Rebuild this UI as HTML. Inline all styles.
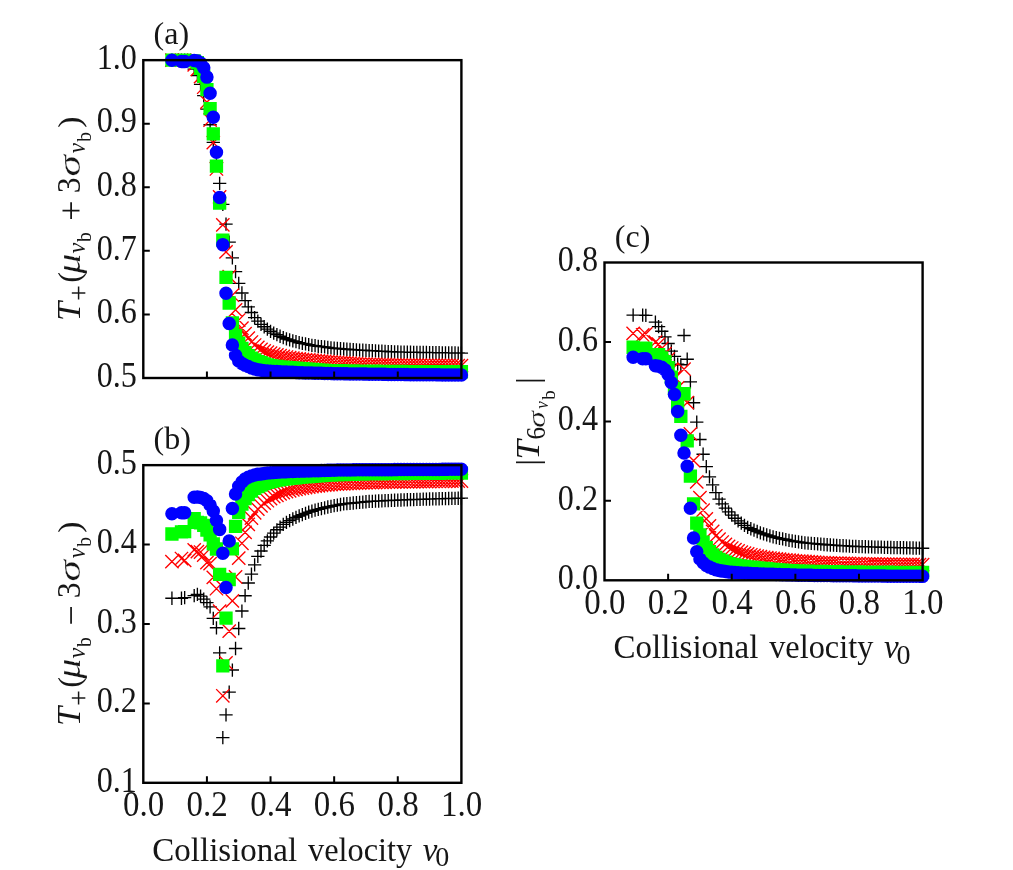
<!DOCTYPE html>
<html lang="en"><head><meta charset="utf-8"><title>Transmission versus collisional velocity</title>
<style>html,body{margin:0;padding:0;background:#fff}body{width:1013px;height:870px;overflow:hidden;font-family:"Liberation Serif", serif}svg{display:block;font-family:"Liberation Serif", serif;font-size:33px;fill:#161616;will-change:transform}</style>
</head><body>
<svg width="1013" height="870" viewBox="0 0 1013 870" role="img" aria-label="Transmission versus collisional velocity, panels a, b and c">
<rect width="1013" height="870" fill="#fff"/>
<g id="panel-a">
<path d="M165.28 60.15h13.3M171.93 53.5v13.3M174.82 60.15h13.3M181.47 53.5v13.3M178 60.15h13.3M184.65 53.5v13.3M187.55 69.18h13.3M194.2 62.53v13.3M190.73 75.6h13.3M197.38 68.95v13.3M193.91 84.31h13.3M200.56 77.66v13.3M197.09 95.62h13.3M203.74 88.97v13.3M200.27 109.1h13.3M206.92 102.45v13.3M203.45 124.74h13.3M210.1 118.09v13.3M206.63 142.41h13.3M213.28 135.76v13.3M209.81 162.37h13.3M216.46 155.72v13.3M212.99 183.35h13.3M219.64 176.7v13.3M216.17 204.39h13.3M222.82 197.74v13.3M219.36 224.16h13.3M226.01 217.51v13.3M222.54 242.15h13.3M229.19 235.5v13.3M225.72 257.85h13.3M232.37 251.2v13.3M228.9 271.58h13.3M235.55 264.93v13.3M232.08 283.41h13.3M238.73 276.76v13.3M235.26 293.01h13.3M241.91 286.36v13.3M238.44 300.64h13.3M245.09 293.99v13.3M241.62 306.93h13.3M248.27 300.28v13.3M244.8 312.52h13.3M251.45 305.87v13.3M247.98 317.61h13.3M254.63 310.96v13.3M251.17 321.1h13.3M257.82 314.45v13.3M254.35 324.41h13.3M261 317.76v13.3M257.53 326.76h13.3M264.18 320.11v13.3M260.71 329.18h13.3M267.36 322.53v13.3M263.89 331.28h13.3M270.54 324.63v13.3M267.07 333.06h13.3M273.72 326.41v13.3M270.25 334.65h13.3M276.9 328v13.3M273.43 336.23h13.3M280.08 329.58v13.3M276.61 337.57h13.3M283.26 330.92v13.3M279.8 338.97h13.3M286.44 332.32v13.3M282.98 339.86h13.3M289.63 333.21v13.3M286.16 340.94h13.3M292.81 334.29v13.3M289.34 341.64h13.3M295.99 334.99v13.3M292.52 342.72h13.3M299.17 336.07v13.3M295.7 343.42h13.3M302.35 336.77v13.3M298.88 343.93h13.3M305.53 337.28v13.3M302.06 344.63h13.3M308.71 337.98v13.3M305.24 345.39h13.3M311.89 338.74v13.3M308.42 345.71h13.3M315.07 339.06v13.3M311.61 346.28h13.3M318.25 339.63v13.3M314.79 346.6h13.3M321.44 339.95v13.3M317.97 346.91h13.3M324.62 340.26v13.3M321.15 347.49h13.3M327.8 340.84v13.3M324.33 347.8h13.3M330.98 341.15v13.3M327.51 348.25h13.3M334.16 341.6v13.3M330.69 348.5h13.3M337.34 341.85v13.3M333.87 348.76h13.3M340.52 342.11v13.3M337.05 349.01h13.3M343.7 342.36v13.3M340.23 349.27h13.3M346.88 342.62v13.3M343.42 349.52h13.3M350.06 342.87v13.3M346.6 349.7h13.3M353.25 343.05v13.3M349.78 349.88h13.3M356.43 343.23v13.3M352.96 350.05h13.3M359.61 343.4v13.3M356.14 350.23h13.3M362.79 343.58v13.3M359.32 350.41h13.3M365.97 343.76v13.3M362.5 350.58h13.3M369.15 343.93v13.3M365.68 350.75h13.3M372.33 344.1v13.3M368.86 350.92h13.3M375.51 344.27v13.3M372.04 351.09h13.3M378.69 344.44v13.3M375.23 351.26h13.3M381.88 344.61v13.3M378.41 351.43h13.3M385.06 344.78v13.3M381.59 351.6h13.3M388.24 344.95v13.3M384.77 351.77h13.3M391.42 345.12v13.3M387.95 351.94h13.3M394.6 345.29v13.3M391.13 351.99h13.3M397.78 345.34v13.3M394.31 352.05h13.3M400.96 345.4v13.3M397.49 352.11h13.3M404.14 345.46v13.3M400.67 352.17h13.3M407.32 345.52v13.3M403.85 352.23h13.3M410.5 345.58v13.3M407.04 352.28h13.3M413.69 345.63v13.3M410.22 352.34h13.3M416.87 345.69v13.3M413.4 352.4h13.3M420.05 345.75v13.3M416.58 352.46h13.3M423.23 345.81v13.3M419.76 352.51h13.3M426.41 345.86v13.3M422.94 352.57h13.3M429.59 345.92v13.3M426.12 352.62h13.3M432.77 345.97v13.3M429.3 352.67h13.3M435.95 346.02v13.3M432.48 352.72h13.3M439.13 346.07v13.3M435.66 352.78h13.3M442.31 346.13v13.3M438.84 352.83h13.3M445.49 346.18v13.3M442.03 352.88h13.3M448.68 346.23v13.3M445.21 352.93h13.3M451.86 346.28v13.3M448.39 352.98h13.3M455.04 346.33v13.3M451.57 353.03h13.3M458.22 346.38v13.3M454.75 353.08h13.3M461.4 346.43v13.3" stroke="#000000" stroke-width="1.35" fill="none"/>
<path d="M165.28 53.5l13.3 13.3M165.28 66.8l13.3 -13.3M174.82 53.5l13.3 13.3M174.82 66.8l13.3 -13.3M178 53.5l13.3 13.3M178 66.8l13.3 -13.3M187.55 58.14l13.3 13.3M187.55 71.44l13.3 -13.3M190.73 62.72l13.3 13.3M190.73 76.02l13.3 -13.3M193.91 69.9l13.3 13.3M193.91 83.2l13.3 -13.3M197.09 80.58l13.3 13.3M197.09 93.88l13.3 -13.3M200.27 95.46l13.3 13.3M200.27 108.76l13.3 -13.3M203.45 113.38l13.3 13.3M203.45 126.68l13.3 -13.3M206.63 136.01l13.3 13.3M206.63 149.31l13.3 -13.3M209.81 162.33l13.3 13.3M209.81 175.63l13.3 -13.3M212.99 190.3l13.3 13.3M212.99 203.6l13.3 -13.3M216.17 218.15l13.3 13.3M216.17 231.45l13.3 -13.3M219.36 245.29l13.3 13.3M219.36 258.59l13.3 -13.3M222.54 270.02l13.3 13.3M222.54 283.32l13.3 -13.3M225.72 288.58l13.3 13.3M225.72 301.88l13.3 -13.3M228.9 303.27l13.3 13.3M228.9 316.57l13.3 -13.3M232.08 313.37l13.3 13.3M232.08 326.67l13.3 -13.3M235.26 321.57l13.3 13.3M235.26 334.87l13.3 -13.3M238.44 326.98l13.3 13.3M238.44 340.28l13.3 -13.3M241.62 331.56l13.3 13.3M241.62 344.86l13.3 -13.3M244.8 335.37l13.3 13.3M244.8 348.67l13.3 -13.3M247.98 338.36l13.3 13.3M247.98 351.66l13.3 -13.3M251.17 340.77l13.3 13.3M251.17 354.07l13.3 -13.3M254.35 342.68l13.3 13.3M254.35 355.98l13.3 -13.3M257.53 344.21l13.3 13.3M257.53 357.51l13.3 -13.3M260.71 345.48l13.3 13.3M260.71 358.78l13.3 -13.3M263.89 346.56l13.3 13.3M263.89 359.86l13.3 -13.3M267.07 347.41l13.3 13.3M267.07 360.71l13.3 -13.3M270.25 348.25l13.3 13.3M270.25 361.55l13.3 -13.3M273.43 349.1l13.3 13.3M273.43 362.4l13.3 -13.3M276.61 349.74l13.3 13.3M276.61 363.04l13.3 -13.3M279.8 350.37l13.3 13.3M279.8 363.67l13.3 -13.3M282.98 351.01l13.3 13.3M282.98 364.31l13.3 -13.3M286.16 351.45l13.3 13.3M286.16 364.75l13.3 -13.3M289.34 351.9l13.3 13.3M289.34 365.2l13.3 -13.3M292.52 352.34l13.3 13.3M292.52 365.64l13.3 -13.3M295.7 352.79l13.3 13.3M295.7 366.09l13.3 -13.3M298.88 353.06l13.3 13.3M298.88 366.36l13.3 -13.3M302.06 353.33l13.3 13.3M302.06 366.63l13.3 -13.3M305.24 353.6l13.3 13.3M305.24 366.9l13.3 -13.3M308.42 353.87l13.3 13.3M308.42 367.17l13.3 -13.3M311.61 354.14l13.3 13.3M311.61 367.44l13.3 -13.3M314.79 354.41l13.3 13.3M314.79 367.71l13.3 -13.3M317.97 354.68l13.3 13.3M317.97 367.98l13.3 -13.3M321.15 354.95l13.3 13.3M321.15 368.25l13.3 -13.3M324.33 355.18l13.3 13.3M324.33 368.48l13.3 -13.3M327.51 355.41l13.3 13.3M327.51 368.71l13.3 -13.3M330.69 355.64l13.3 13.3M330.69 368.94l13.3 -13.3M333.87 355.87l13.3 13.3M333.87 369.17l13.3 -13.3M337.05 356.1l13.3 13.3M337.05 369.4l13.3 -13.3M340.23 356.34l13.3 13.3M340.23 369.64l13.3 -13.3M343.42 356.57l13.3 13.3M343.42 369.87l13.3 -13.3M346.6 356.8l13.3 13.3M346.6 370.1l13.3 -13.3M349.78 357.03l13.3 13.3M349.78 370.33l13.3 -13.3M352.96 357.26l13.3 13.3M352.96 370.56l13.3 -13.3M356.14 357.49l13.3 13.3M356.14 370.79l13.3 -13.3M359.32 357.57l13.3 13.3M359.32 370.87l13.3 -13.3M362.5 357.64l13.3 13.3M362.5 370.94l13.3 -13.3M365.68 357.72l13.3 13.3M365.68 371.02l13.3 -13.3M368.86 357.79l13.3 13.3M368.86 371.09l13.3 -13.3M372.04 357.87l13.3 13.3M372.04 371.17l13.3 -13.3M375.23 357.94l13.3 13.3M375.23 371.24l13.3 -13.3M378.41 358.02l13.3 13.3M378.41 371.32l13.3 -13.3M381.59 358.09l13.3 13.3M381.59 371.39l13.3 -13.3M384.77 358.17l13.3 13.3M384.77 371.47l13.3 -13.3M387.95 358.24l13.3 13.3M387.95 371.54l13.3 -13.3M391.13 358.32l13.3 13.3M391.13 371.62l13.3 -13.3M394.31 358.36l13.3 13.3M394.31 371.66l13.3 -13.3M397.49 358.39l13.3 13.3M397.49 371.69l13.3 -13.3M400.67 358.43l13.3 13.3M400.67 371.73l13.3 -13.3M403.85 358.47l13.3 13.3M403.85 371.77l13.3 -13.3M407.04 358.51l13.3 13.3M407.04 371.81l13.3 -13.3M410.22 358.55l13.3 13.3M410.22 371.85l13.3 -13.3M413.4 358.59l13.3 13.3M413.4 371.89l13.3 -13.3M416.58 358.62l13.3 13.3M416.58 371.92l13.3 -13.3M419.76 358.66l13.3 13.3M419.76 371.96l13.3 -13.3M422.94 358.7l13.3 13.3M422.94 372l13.3 -13.3M426.12 358.72l13.3 13.3M426.12 372.02l13.3 -13.3M429.3 358.75l13.3 13.3M429.3 372.05l13.3 -13.3M432.48 358.78l13.3 13.3M432.48 372.08l13.3 -13.3M435.66 358.8l13.3 13.3M435.66 372.1l13.3 -13.3M438.84 358.83l13.3 13.3M438.84 372.13l13.3 -13.3M442.03 358.85l13.3 13.3M442.03 372.15l13.3 -13.3M445.21 358.88l13.3 13.3M445.21 372.18l13.3 -13.3M448.39 358.9l13.3 13.3M448.39 372.2l13.3 -13.3M451.57 358.93l13.3 13.3M451.57 372.23l13.3 -13.3M454.75 358.95l13.3 13.3M454.75 372.25l13.3 -13.3" stroke="#ff0000" stroke-width="1.35" fill="none"/>
<path d="M165.28 53.5h13.3v13.3h-13.3zM174.82 53.5h13.3v13.3h-13.3zM178 53.5h13.3v13.3h-13.3zM187.55 54.14h13.3v13.3h-13.3zM190.73 55.92h13.3v13.3h-13.3zM193.91 61.76h13.3v13.3h-13.3zM197.09 69.58h13.3v13.3h-13.3zM200.27 83h13.3v13.3h-13.3zM203.45 101.88h13.3v13.3h-13.3zM206.63 127.24h13.3v13.3h-13.3zM209.81 159.47h13.3v13.3h-13.3zM212.99 196.41h13.3v13.3h-13.3zM216.17 233.53h13.3v13.3h-13.3zM219.36 270.72h13.3v13.3h-13.3zM222.54 296.34h13.3v13.3h-13.3zM225.72 316.17h13.3v13.3h-13.3zM228.9 328.95h13.3v13.3h-13.3zM232.08 336.39h13.3v13.3h-13.3zM235.26 341.73h13.3v13.3h-13.3zM238.44 345.92h13.3v13.3h-13.3zM241.62 348.91h13.3v13.3h-13.3zM244.8 351.58h13.3v13.3h-13.3zM247.98 353.36h13.3v13.3h-13.3zM251.17 354.89h13.3v13.3h-13.3zM254.35 356.09h13.3v13.3h-13.3zM257.53 357.24h13.3v13.3h-13.3zM260.71 358.32h13.3v13.3h-13.3zM263.89 358.88h13.3v13.3h-13.3zM267.07 359.41h13.3v13.3h-13.3zM270.25 359.78h13.3v13.3h-13.3zM273.43 360.13h13.3v13.3h-13.3zM276.61 360.47h13.3v13.3h-13.3zM279.8 360.77h13.3v13.3h-13.3zM282.98 361.01h13.3v13.3h-13.3zM286.16 361.25h13.3v13.3h-13.3zM289.34 361.5h13.3v13.3h-13.3zM292.52 361.75h13.3v13.3h-13.3zM295.7 362.01h13.3v13.3h-13.3zM298.88 362.24h13.3v13.3h-13.3zM302.06 362.48h13.3v13.3h-13.3zM305.24 362.72h13.3v13.3h-13.3zM308.42 362.96h13.3v13.3h-13.3zM311.61 363.2h13.3v13.3h-13.3zM314.79 363.44h13.3v13.3h-13.3zM317.97 363.67h13.3v13.3h-13.3zM321.15 363.91h13.3v13.3h-13.3zM324.33 363.97h13.3v13.3h-13.3zM327.51 364.02h13.3v13.3h-13.3zM330.69 364.07h13.3v13.3h-13.3zM333.87 364.12h13.3v13.3h-13.3zM337.05 364.18h13.3v13.3h-13.3zM340.23 364.23h13.3v13.3h-13.3zM343.42 364.28h13.3v13.3h-13.3zM346.6 364.34h13.3v13.3h-13.3zM349.78 364.39h13.3v13.3h-13.3zM352.96 364.43h13.3v13.3h-13.3zM356.14 364.47h13.3v13.3h-13.3zM359.32 364.5h13.3v13.3h-13.3zM362.5 364.54h13.3v13.3h-13.3zM365.68 364.57h13.3v13.3h-13.3zM368.86 364.6h13.3v13.3h-13.3zM372.04 364.64h13.3v13.3h-13.3zM375.23 364.67h13.3v13.3h-13.3zM378.41 364.7h13.3v13.3h-13.3zM381.59 364.74h13.3v13.3h-13.3zM384.77 364.77h13.3v13.3h-13.3zM387.95 364.8h13.3v13.3h-13.3zM391.13 364.83h13.3v13.3h-13.3zM394.31 364.87h13.3v13.3h-13.3zM397.49 364.9h13.3v13.3h-13.3zM400.67 364.93h13.3v13.3h-13.3zM403.85 364.96h13.3v13.3h-13.3zM407.04 364.99h13.3v13.3h-13.3zM410.22 365h13.3v13.3h-13.3zM413.4 365.01h13.3v13.3h-13.3zM416.58 365.02h13.3v13.3h-13.3zM419.76 365.03h13.3v13.3h-13.3zM422.94 365.04h13.3v13.3h-13.3zM426.12 365.04h13.3v13.3h-13.3zM429.3 365.05h13.3v13.3h-13.3zM432.48 365.06h13.3v13.3h-13.3zM435.66 365.07h13.3v13.3h-13.3zM438.84 365.08h13.3v13.3h-13.3zM442.03 365.09h13.3v13.3h-13.3zM445.21 365.09h13.3v13.3h-13.3zM448.39 365.1h13.3v13.3h-13.3zM451.57 365.11h13.3v13.3h-13.3zM454.75 365.12h13.3v13.3h-13.3z" fill="#00ff00"/>
<path d="M165.18 60.15a6.75 6.75 0 1 0 13.5 0a6.75 6.75 0 1 0 -13.5 0zM174.72 61.42a6.75 6.75 0 1 0 13.5 0a6.75 6.75 0 1 0 -13.5 0zM177.9 61.61a6.75 6.75 0 1 0 13.5 0a6.75 6.75 0 1 0 -13.5 0zM187.45 60.47a6.75 6.75 0 1 0 13.5 0a6.75 6.75 0 1 0 -13.5 0zM190.63 61.1a6.75 6.75 0 1 0 13.5 0a6.75 6.75 0 1 0 -13.5 0zM193.81 63.07a6.75 6.75 0 1 0 13.5 0a6.75 6.75 0 1 0 -13.5 0zM196.99 67.78a6.75 6.75 0 1 0 13.5 0a6.75 6.75 0 1 0 -13.5 0zM200.17 77.12a6.75 6.75 0 1 0 13.5 0a6.75 6.75 0 1 0 -13.5 0zM203.35 93.21a6.75 6.75 0 1 0 13.5 0a6.75 6.75 0 1 0 -13.5 0zM206.53 117.24a6.75 6.75 0 1 0 13.5 0a6.75 6.75 0 1 0 -13.5 0zM209.71 152.33a6.75 6.75 0 1 0 13.5 0a6.75 6.75 0 1 0 -13.5 0zM212.89 197.46a6.75 6.75 0 1 0 13.5 0a6.75 6.75 0 1 0 -13.5 0zM216.07 244.63a6.75 6.75 0 1 0 13.5 0a6.75 6.75 0 1 0 -13.5 0zM219.26 293.26a6.75 6.75 0 1 0 13.5 0a6.75 6.75 0 1 0 -13.5 0zM222.44 323.46a6.75 6.75 0 1 0 13.5 0a6.75 6.75 0 1 0 -13.5 0zM225.62 344.94a6.75 6.75 0 1 0 13.5 0a6.75 6.75 0 1 0 -13.5 0zM228.8 355.24a6.75 6.75 0 1 0 13.5 0a6.75 6.75 0 1 0 -13.5 0zM231.98 360.96a6.75 6.75 0 1 0 13.5 0a6.75 6.75 0 1 0 -13.5 0zM235.16 363.38a6.75 6.75 0 1 0 13.5 0a6.75 6.75 0 1 0 -13.5 0zM238.34 365.29a6.75 6.75 0 1 0 13.5 0a6.75 6.75 0 1 0 -13.5 0zM241.52 366.56a6.75 6.75 0 1 0 13.5 0a6.75 6.75 0 1 0 -13.5 0zM244.7 367.89a6.75 6.75 0 1 0 13.5 0a6.75 6.75 0 1 0 -13.5 0zM247.88 368.97a6.75 6.75 0 1 0 13.5 0a6.75 6.75 0 1 0 -13.5 0zM251.07 369.74a6.75 6.75 0 1 0 13.5 0a6.75 6.75 0 1 0 -13.5 0zM254.25 370.31a6.75 6.75 0 1 0 13.5 0a6.75 6.75 0 1 0 -13.5 0zM257.43 370.69a6.75 6.75 0 1 0 13.5 0a6.75 6.75 0 1 0 -13.5 0zM260.61 370.94a6.75 6.75 0 1 0 13.5 0a6.75 6.75 0 1 0 -13.5 0zM263.79 371.2a6.75 6.75 0 1 0 13.5 0a6.75 6.75 0 1 0 -13.5 0zM266.97 371.38a6.75 6.75 0 1 0 13.5 0a6.75 6.75 0 1 0 -13.5 0zM270.15 371.55a6.75 6.75 0 1 0 13.5 0a6.75 6.75 0 1 0 -13.5 0zM273.33 371.73a6.75 6.75 0 1 0 13.5 0a6.75 6.75 0 1 0 -13.5 0zM276.51 371.91a6.75 6.75 0 1 0 13.5 0a6.75 6.75 0 1 0 -13.5 0zM279.69 372.09a6.75 6.75 0 1 0 13.5 0a6.75 6.75 0 1 0 -13.5 0zM282.88 372.23a6.75 6.75 0 1 0 13.5 0a6.75 6.75 0 1 0 -13.5 0zM286.06 372.37a6.75 6.75 0 1 0 13.5 0a6.75 6.75 0 1 0 -13.5 0zM289.24 372.51a6.75 6.75 0 1 0 13.5 0a6.75 6.75 0 1 0 -13.5 0zM292.42 372.65a6.75 6.75 0 1 0 13.5 0a6.75 6.75 0 1 0 -13.5 0zM295.6 372.79a6.75 6.75 0 1 0 13.5 0a6.75 6.75 0 1 0 -13.5 0zM298.78 372.88a6.75 6.75 0 1 0 13.5 0a6.75 6.75 0 1 0 -13.5 0zM301.96 372.97a6.75 6.75 0 1 0 13.5 0a6.75 6.75 0 1 0 -13.5 0zM305.14 373.05a6.75 6.75 0 1 0 13.5 0a6.75 6.75 0 1 0 -13.5 0zM308.32 373.14a6.75 6.75 0 1 0 13.5 0a6.75 6.75 0 1 0 -13.5 0zM311.5 373.23a6.75 6.75 0 1 0 13.5 0a6.75 6.75 0 1 0 -13.5 0zM314.69 373.32a6.75 6.75 0 1 0 13.5 0a6.75 6.75 0 1 0 -13.5 0zM317.87 373.41a6.75 6.75 0 1 0 13.5 0a6.75 6.75 0 1 0 -13.5 0zM321.05 373.5a6.75 6.75 0 1 0 13.5 0a6.75 6.75 0 1 0 -13.5 0zM324.23 373.59a6.75 6.75 0 1 0 13.5 0a6.75 6.75 0 1 0 -13.5 0zM327.41 373.68a6.75 6.75 0 1 0 13.5 0a6.75 6.75 0 1 0 -13.5 0zM330.59 373.72a6.75 6.75 0 1 0 13.5 0a6.75 6.75 0 1 0 -13.5 0zM333.77 373.77a6.75 6.75 0 1 0 13.5 0a6.75 6.75 0 1 0 -13.5 0zM336.95 373.81a6.75 6.75 0 1 0 13.5 0a6.75 6.75 0 1 0 -13.5 0zM340.13 373.86a6.75 6.75 0 1 0 13.5 0a6.75 6.75 0 1 0 -13.5 0zM343.31 373.9a6.75 6.75 0 1 0 13.5 0a6.75 6.75 0 1 0 -13.5 0zM346.5 373.94a6.75 6.75 0 1 0 13.5 0a6.75 6.75 0 1 0 -13.5 0zM349.68 373.99a6.75 6.75 0 1 0 13.5 0a6.75 6.75 0 1 0 -13.5 0zM352.86 374.03a6.75 6.75 0 1 0 13.5 0a6.75 6.75 0 1 0 -13.5 0zM356.04 374.08a6.75 6.75 0 1 0 13.5 0a6.75 6.75 0 1 0 -13.5 0zM359.22 374.12a6.75 6.75 0 1 0 13.5 0a6.75 6.75 0 1 0 -13.5 0zM362.4 374.17a6.75 6.75 0 1 0 13.5 0a6.75 6.75 0 1 0 -13.5 0zM365.58 374.21a6.75 6.75 0 1 0 13.5 0a6.75 6.75 0 1 0 -13.5 0zM368.76 374.25a6.75 6.75 0 1 0 13.5 0a6.75 6.75 0 1 0 -13.5 0zM371.94 374.28a6.75 6.75 0 1 0 13.5 0a6.75 6.75 0 1 0 -13.5 0zM375.12 374.32a6.75 6.75 0 1 0 13.5 0a6.75 6.75 0 1 0 -13.5 0zM378.31 374.36a6.75 6.75 0 1 0 13.5 0a6.75 6.75 0 1 0 -13.5 0zM381.49 374.4a6.75 6.75 0 1 0 13.5 0a6.75 6.75 0 1 0 -13.5 0zM384.67 374.43a6.75 6.75 0 1 0 13.5 0a6.75 6.75 0 1 0 -13.5 0zM387.85 374.47a6.75 6.75 0 1 0 13.5 0a6.75 6.75 0 1 0 -13.5 0zM391.03 374.51a6.75 6.75 0 1 0 13.5 0a6.75 6.75 0 1 0 -13.5 0zM394.21 374.54a6.75 6.75 0 1 0 13.5 0a6.75 6.75 0 1 0 -13.5 0zM397.39 374.58a6.75 6.75 0 1 0 13.5 0a6.75 6.75 0 1 0 -13.5 0zM400.57 374.62a6.75 6.75 0 1 0 13.5 0a6.75 6.75 0 1 0 -13.5 0zM403.75 374.66a6.75 6.75 0 1 0 13.5 0a6.75 6.75 0 1 0 -13.5 0zM406.94 374.69a6.75 6.75 0 1 0 13.5 0a6.75 6.75 0 1 0 -13.5 0zM410.12 374.72a6.75 6.75 0 1 0 13.5 0a6.75 6.75 0 1 0 -13.5 0zM413.3 374.74a6.75 6.75 0 1 0 13.5 0a6.75 6.75 0 1 0 -13.5 0zM416.48 374.76a6.75 6.75 0 1 0 13.5 0a6.75 6.75 0 1 0 -13.5 0zM419.66 374.78a6.75 6.75 0 1 0 13.5 0a6.75 6.75 0 1 0 -13.5 0zM422.84 374.8a6.75 6.75 0 1 0 13.5 0a6.75 6.75 0 1 0 -13.5 0zM426.02 374.82a6.75 6.75 0 1 0 13.5 0a6.75 6.75 0 1 0 -13.5 0zM429.2 374.84a6.75 6.75 0 1 0 13.5 0a6.75 6.75 0 1 0 -13.5 0zM432.38 374.86a6.75 6.75 0 1 0 13.5 0a6.75 6.75 0 1 0 -13.5 0zM435.56 374.89a6.75 6.75 0 1 0 13.5 0a6.75 6.75 0 1 0 -13.5 0zM438.74 374.91a6.75 6.75 0 1 0 13.5 0a6.75 6.75 0 1 0 -13.5 0zM441.93 374.93a6.75 6.75 0 1 0 13.5 0a6.75 6.75 0 1 0 -13.5 0zM445.11 374.95a6.75 6.75 0 1 0 13.5 0a6.75 6.75 0 1 0 -13.5 0zM448.29 374.97a6.75 6.75 0 1 0 13.5 0a6.75 6.75 0 1 0 -13.5 0zM451.47 374.99a6.75 6.75 0 1 0 13.5 0a6.75 6.75 0 1 0 -13.5 0zM454.65 375.01a6.75 6.75 0 1 0 13.5 0a6.75 6.75 0 1 0 -13.5 0z" fill="#0000ff"/>
<rect x="143.3" y="60.15" width="318.1" height="317.85" fill="none" stroke="#000" stroke-width="2.4"/>
<path d="M206.92 378v-6.5M270.54 378v-6.5M334.16 378v-6.5M397.78 378v-6.5M143.3 314.43h6.5M143.3 250.86h6.5M143.3 187.29h6.5M143.3 123.72h6.5" stroke="#000" stroke-width="2.0" fill="none"/>
<text transform="translate(96.65 386.7) scale(0.975 1.07)">0.5</text>
<text transform="translate(96.65 323.13) scale(0.975 1.07)">0.6</text>
<text transform="translate(96.65 259.56) scale(0.975 1.07)">0.7</text>
<text transform="translate(96.65 195.99) scale(0.975 1.07)">0.8</text>
<text transform="translate(96.65 132.42) scale(0.975 1.07)">0.9</text>
<text transform="translate(96.65 68.85) scale(0.975 1.07)">1.0</text>
</g>
<g id="panel-b">
<path d="M165.28 598.25h13.3M171.93 591.6v13.3M174.82 598.25h13.3M181.47 591.6v13.3M178 597.69h13.3M184.65 591.04v13.3M187.55 595.55h13.3M194.2 588.9v13.3M190.73 594.43h13.3M197.38 587.78v13.3M193.91 596.1h13.3M200.56 589.45v13.3M197.09 599.12h13.3M203.74 592.47v13.3M200.27 602.69h13.3M206.92 596.04v13.3M203.45 606.82h13.3M210.1 600.17v13.3M206.63 618.42h13.3M213.28 611.77v13.3M209.81 627.79h13.3M216.46 621.14v13.3M212.99 652.8h13.3M219.64 646.15v13.3M216.17 737.69h13.3M222.82 731.04v13.3M219.36 714.9h13.3M226.01 708.25v13.3M222.54 692.11h13.3M229.19 685.46v13.3M225.72 670.03h13.3M232.37 663.38v13.3M228.9 648.51h13.3M235.55 641.86v13.3M232.08 628.5h13.3M238.73 621.85v13.3M235.26 611.03h13.3M241.91 604.38v13.3M238.44 595.7h13.3M245.09 589.05v13.3M241.62 583h13.3M248.27 576.35v13.3M244.8 574.1h13.3M251.45 567.45v13.3M247.98 564.89h13.3M254.63 558.24v13.3M251.17 556.39h13.3M257.82 549.74v13.3M254.35 550.99h13.3M261 544.34v13.3M257.53 545.36h13.3M264.18 538.71v13.3M260.71 540.91h13.3M267.36 534.26v13.3M263.89 537.02h13.3M270.54 530.37v13.3M267.07 533.13h13.3M273.72 526.48v13.3M270.25 529.79h13.3M276.9 523.14v13.3M273.43 527.09h13.3M280.08 520.44v13.3M276.61 524.39h13.3M283.26 517.74v13.3M279.8 522.33h13.3M286.44 515.68v13.3M282.98 520.58h13.3M289.63 513.93v13.3M286.16 518.99h13.3M292.81 512.34v13.3M289.34 517.32h13.3M295.99 510.67v13.3M292.52 515.97h13.3M299.17 509.32v13.3M295.7 514.7h13.3M302.35 508.05v13.3M298.88 513.43h13.3M305.53 506.78v13.3M302.06 512.16h13.3M308.71 505.51v13.3M305.24 511.21h13.3M311.89 504.56v13.3M308.42 510.18h13.3M315.07 503.53v13.3M311.61 509.38h13.3M318.25 502.73v13.3M314.79 508.59h13.3M321.44 501.94v13.3M317.97 507.79h13.3M324.62 501.14v13.3M321.15 507h13.3M327.8 500.35v13.3M324.33 506.33h13.3M330.98 499.68v13.3M327.51 505.65h13.3M334.16 499v13.3M330.69 505.07h13.3M337.34 498.42v13.3M333.87 504.49h13.3M340.52 497.84v13.3M337.05 503.9h13.3M343.7 497.25v13.3M340.23 503.6h13.3M346.88 496.95v13.3M343.42 503.29h13.3M350.06 496.64v13.3M346.6 502.98h13.3M353.25 496.33v13.3M349.78 502.67h13.3M356.43 496.02v13.3M352.96 502.36h13.3M359.61 495.71v13.3M356.14 502.06h13.3M362.79 495.41v13.3M359.32 501.75h13.3M365.97 495.1v13.3M362.5 501.44h13.3M369.15 494.79v13.3M365.68 501.29h13.3M372.33 494.64v13.3M368.86 501.14h13.3M375.51 494.49v13.3M372.04 500.99h13.3M378.69 494.34v13.3M375.23 500.84h13.3M381.88 494.19v13.3M378.41 500.69h13.3M385.06 494.04v13.3M381.59 500.54h13.3M388.24 493.89v13.3M384.77 500.39h13.3M391.42 493.74v13.3M387.95 500.24h13.3M394.6 493.59v13.3M391.13 500.09h13.3M397.78 493.44v13.3M394.31 499.98h13.3M400.96 493.33v13.3M397.49 499.87h13.3M404.14 493.22v13.3M400.67 499.76h13.3M407.32 493.11v13.3M403.85 499.65h13.3M410.5 493v13.3M407.04 499.54h13.3M413.69 492.89v13.3M410.22 499.42h13.3M416.87 492.77v13.3M413.4 499.31h13.3M420.05 492.66v13.3M416.58 499.2h13.3M423.23 492.55v13.3M419.76 499.09h13.3M426.41 492.44v13.3M422.94 498.98h13.3M429.59 492.33v13.3M426.12 498.9h13.3M432.77 492.25v13.3M429.3 498.82h13.3M435.95 492.17v13.3M432.48 498.74h13.3M439.13 492.09v13.3M435.66 498.66h13.3M442.31 492.01v13.3M438.84 498.58h13.3M445.49 491.93v13.3M442.03 498.5h13.3M448.68 491.85v13.3M445.21 498.42h13.3M451.86 491.77v13.3M448.39 498.34h13.3M455.04 491.69v13.3M451.57 498.27h13.3M458.22 491.62v13.3M454.75 498.19h13.3M461.4 491.54v13.3" stroke="#000000" stroke-width="1.35" fill="none"/>
<path d="M165.28 554.99l13.3 13.3M165.28 568.29l13.3 -13.3M174.82 551.89l13.3 13.3M174.82 565.19l13.3 -13.3M178 553.79l13.3 13.3M178 567.09l13.3 -13.3M187.55 543.15l13.3 13.3M187.55 556.45l13.3 -13.3M190.73 544.9l13.3 13.3M190.73 558.2l13.3 -13.3M193.91 545.38l13.3 13.3M193.91 558.68l13.3 -13.3M197.09 548.39l13.3 13.3M197.09 561.69l13.3 -13.3M200.27 556.02l13.3 13.3M200.27 569.32l13.3 -13.3M203.45 556.97l13.3 13.3M203.45 570.27l13.3 -13.3M206.63 570.79l13.3 13.3M206.63 584.09l13.3 -13.3M209.81 582.07l13.3 13.3M209.81 595.37l13.3 -13.3M212.99 604.46l13.3 13.3M212.99 617.76l13.3 -13.3M216.17 689.11l13.3 13.3M216.17 702.41l13.3 -13.3M219.36 656.24l13.3 13.3M219.36 669.54l13.3 -13.3M222.54 624.47l13.3 13.3M222.54 637.77l13.3 -13.3M225.72 594.3l13.3 13.3M225.72 607.6l13.3 -13.3M228.9 570.23l13.3 13.3M228.9 583.53l13.3 -13.3M232.08 551.41l13.3 13.3M232.08 564.71l13.3 -13.3M235.26 536.64l13.3 13.3M235.26 549.94l13.3 -13.3M238.44 525.76l13.3 13.3M238.44 539.06l13.3 -13.3M241.62 517.74l13.3 13.3M241.62 531.04l13.3 -13.3M244.8 511.47l13.3 13.3M244.8 524.77l13.3 -13.3M247.98 506.15l13.3 13.3M247.98 519.45l13.3 -13.3M251.17 502.42l13.3 13.3M251.17 515.72l13.3 -13.3M254.35 499.24l13.3 13.3M254.35 512.54l13.3 -13.3M257.53 496.54l13.3 13.3M257.53 509.84l13.3 -13.3M260.71 494.08l13.3 13.3M260.71 507.38l13.3 -13.3M263.89 492.01l13.3 13.3M263.89 505.31l13.3 -13.3M267.07 490.03l13.3 13.3M267.07 503.33l13.3 -13.3M270.25 488.6l13.3 13.3M270.25 501.9l13.3 -13.3M273.43 487.17l13.3 13.3M273.43 500.47l13.3 -13.3M276.61 485.98l13.3 13.3M276.61 499.28l13.3 -13.3M279.8 485.02l13.3 13.3M279.8 498.32l13.3 -13.3M282.98 484.15l13.3 13.3M282.98 497.45l13.3 -13.3M286.16 483.28l13.3 13.3M286.16 496.58l13.3 -13.3M289.34 482.64l13.3 13.3M289.34 495.94l13.3 -13.3M292.52 482.01l13.3 13.3M292.52 495.31l13.3 -13.3M295.7 481.37l13.3 13.3M295.7 494.67l13.3 -13.3M298.88 480.93l13.3 13.3M298.88 494.23l13.3 -13.3M302.06 480.48l13.3 13.3M302.06 493.78l13.3 -13.3M305.24 480.04l13.3 13.3M305.24 493.34l13.3 -13.3M308.42 479.59l13.3 13.3M308.42 492.89l13.3 -13.3M311.61 479.15l13.3 13.3M311.61 492.45l13.3 -13.3M314.79 478.83l13.3 13.3M314.79 492.13l13.3 -13.3M317.97 478.51l13.3 13.3M317.97 491.81l13.3 -13.3M321.15 478.19l13.3 13.3M321.15 491.49l13.3 -13.3M324.33 477.88l13.3 13.3M324.33 491.18l13.3 -13.3M327.51 477.56l13.3 13.3M327.51 490.86l13.3 -13.3M330.69 477.42l13.3 13.3M330.69 490.72l13.3 -13.3M333.87 477.27l13.3 13.3M333.87 490.57l13.3 -13.3M337.05 477.13l13.3 13.3M337.05 490.43l13.3 -13.3M340.23 476.99l13.3 13.3M340.23 490.29l13.3 -13.3M343.42 476.84l13.3 13.3M343.42 490.14l13.3 -13.3M346.6 476.7l13.3 13.3M346.6 490l13.3 -13.3M349.78 476.56l13.3 13.3M349.78 489.86l13.3 -13.3M352.96 476.42l13.3 13.3M352.96 489.72l13.3 -13.3M356.14 476.27l13.3 13.3M356.14 489.57l13.3 -13.3M359.32 476.13l13.3 13.3M359.32 489.43l13.3 -13.3M362.5 476.05l13.3 13.3M362.5 489.35l13.3 -13.3M365.68 475.97l13.3 13.3M365.68 489.27l13.3 -13.3M368.86 475.89l13.3 13.3M368.86 489.19l13.3 -13.3M372.04 475.81l13.3 13.3M372.04 489.11l13.3 -13.3M375.23 475.73l13.3 13.3M375.23 489.03l13.3 -13.3M378.41 475.65l13.3 13.3M378.41 488.95l13.3 -13.3M381.59 475.57l13.3 13.3M381.59 488.87l13.3 -13.3M384.77 475.49l13.3 13.3M384.77 488.79l13.3 -13.3M387.95 475.41l13.3 13.3M387.95 488.71l13.3 -13.3M391.13 475.34l13.3 13.3M391.13 488.64l13.3 -13.3M394.31 475.29l13.3 13.3M394.31 488.59l13.3 -13.3M397.49 475.24l13.3 13.3M397.49 488.54l13.3 -13.3M400.67 475.19l13.3 13.3M400.67 488.49l13.3 -13.3M403.85 475.14l13.3 13.3M403.85 488.44l13.3 -13.3M407.04 475.1l13.3 13.3M407.04 488.4l13.3 -13.3M410.22 475.05l13.3 13.3M410.22 488.35l13.3 -13.3M413.4 475l13.3 13.3M413.4 488.3l13.3 -13.3M416.58 474.95l13.3 13.3M416.58 488.25l13.3 -13.3M419.76 474.91l13.3 13.3M419.76 488.21l13.3 -13.3M422.94 474.86l13.3 13.3M422.94 488.16l13.3 -13.3M426.12 474.81l13.3 13.3M426.12 488.11l13.3 -13.3M429.3 474.76l13.3 13.3M429.3 488.06l13.3 -13.3M432.48 474.72l13.3 13.3M432.48 488.02l13.3 -13.3M435.66 474.67l13.3 13.3M435.66 487.97l13.3 -13.3M438.84 474.62l13.3 13.3M438.84 487.92l13.3 -13.3M442.03 474.57l13.3 13.3M442.03 487.87l13.3 -13.3M445.21 474.53l13.3 13.3M445.21 487.83l13.3 -13.3M448.39 474.48l13.3 13.3M448.39 487.78l13.3 -13.3M451.57 474.43l13.3 13.3M451.57 487.73l13.3 -13.3M454.75 474.38l13.3 13.3M454.75 487.68l13.3 -13.3" stroke="#ff0000" stroke-width="1.35" fill="none"/>
<path d="M165.28 527.35h13.3v13.3h-13.3zM174.82 525.29h13.3v13.3h-13.3zM178 524.97h13.3v13.3h-13.3zM187.55 512.02h13.3v13.3h-13.3zM190.73 515.68h13.3v13.3h-13.3zM193.91 516.31h13.3v13.3h-13.3zM197.09 518.69h13.3v13.3h-13.3zM200.27 523.38h13.3v13.3h-13.3zM203.45 528.14h13.3v13.3h-13.3zM206.63 537.28h13.3v13.3h-13.3zM209.81 542.36h13.3v13.3h-13.3zM212.99 567.77h13.3v13.3h-13.3zM216.17 659.25h13.3v13.3h-13.3zM219.36 611.45h13.3v13.3h-13.3zM222.54 572.85h13.3v13.3h-13.3zM225.72 542.2h13.3v13.3h-13.3zM228.9 519.65h13.3v13.3h-13.3zM232.08 505.59h13.3v13.3h-13.3zM235.26 497.57h13.3v13.3h-13.3zM238.44 492.01h13.3v13.3h-13.3zM241.62 487.88h13.3v13.3h-13.3zM244.8 484.39h13.3v13.3h-13.3zM247.98 481.69h13.3v13.3h-13.3zM251.17 479.94h13.3v13.3h-13.3zM254.35 478.43h13.3v13.3h-13.3zM257.53 476.92h13.3v13.3h-13.3zM260.71 475.73h13.3v13.3h-13.3zM263.89 474.86h13.3v13.3h-13.3zM267.07 474.14h13.3v13.3h-13.3zM270.25 473.35h13.3v13.3h-13.3zM273.43 472.91h13.3v13.3h-13.3zM276.61 472.48h13.3v13.3h-13.3zM279.8 472.12h13.3v13.3h-13.3zM282.98 471.76h13.3v13.3h-13.3zM286.16 471.44h13.3v13.3h-13.3zM289.34 471.13h13.3v13.3h-13.3zM292.52 470.81h13.3v13.3h-13.3zM295.7 470.49h13.3v13.3h-13.3zM298.88 470.22h13.3v13.3h-13.3zM302.06 469.95h13.3v13.3h-13.3zM305.24 469.68h13.3v13.3h-13.3zM308.42 469.41h13.3v13.3h-13.3zM311.61 469.14h13.3v13.3h-13.3zM314.79 468.95h13.3v13.3h-13.3zM317.97 468.76h13.3v13.3h-13.3zM321.15 468.57h13.3v13.3h-13.3zM324.33 468.38h13.3v13.3h-13.3zM327.51 468.19h13.3v13.3h-13.3zM330.69 468.09h13.3v13.3h-13.3zM333.87 468h13.3v13.3h-13.3zM337.05 467.9h13.3v13.3h-13.3zM340.23 467.81h13.3v13.3h-13.3zM343.42 467.71h13.3v13.3h-13.3zM346.6 467.62h13.3v13.3h-13.3zM349.78 467.52h13.3v13.3h-13.3zM352.96 467.43h13.3v13.3h-13.3zM356.14 467.33h13.3v13.3h-13.3zM359.32 467.24h13.3v13.3h-13.3zM362.5 467.2h13.3v13.3h-13.3zM365.68 467.17h13.3v13.3h-13.3zM368.86 467.14h13.3v13.3h-13.3zM372.04 467.11h13.3v13.3h-13.3zM375.23 467.08h13.3v13.3h-13.3zM378.41 467.04h13.3v13.3h-13.3zM381.59 467.01h13.3v13.3h-13.3zM384.77 466.98h13.3v13.3h-13.3zM387.95 466.95h13.3v13.3h-13.3zM391.13 466.92h13.3v13.3h-13.3zM394.31 466.89h13.3v13.3h-13.3zM397.49 466.85h13.3v13.3h-13.3zM400.67 466.82h13.3v13.3h-13.3zM403.85 466.79h13.3v13.3h-13.3zM407.04 466.76h13.3v13.3h-13.3zM410.22 466.74h13.3v13.3h-13.3zM413.4 466.72h13.3v13.3h-13.3zM416.58 466.7h13.3v13.3h-13.3zM419.76 466.67h13.3v13.3h-13.3zM422.94 466.65h13.3v13.3h-13.3zM426.12 466.63h13.3v13.3h-13.3zM429.3 466.61h13.3v13.3h-13.3zM432.48 466.59h13.3v13.3h-13.3zM435.66 466.57h13.3v13.3h-13.3zM438.84 466.55h13.3v13.3h-13.3zM442.03 466.53h13.3v13.3h-13.3zM445.21 466.5h13.3v13.3h-13.3zM448.39 466.48h13.3v13.3h-13.3zM451.57 466.46h13.3v13.3h-13.3zM454.75 466.44h13.3v13.3h-13.3z" fill="#00ff00"/>
<path d="M165.18 513.83a6.75 6.75 0 1 0 13.5 0a6.75 6.75 0 1 0 -13.5 0zM174.72 512.8a6.75 6.75 0 1 0 13.5 0a6.75 6.75 0 1 0 -13.5 0zM177.9 512.8a6.75 6.75 0 1 0 13.5 0a6.75 6.75 0 1 0 -13.5 0zM187.45 497.23a6.75 6.75 0 1 0 13.5 0a6.75 6.75 0 1 0 -13.5 0zM190.63 497.07a6.75 6.75 0 1 0 13.5 0a6.75 6.75 0 1 0 -13.5 0zM193.81 497.39a6.75 6.75 0 1 0 13.5 0a6.75 6.75 0 1 0 -13.5 0zM196.99 498.42a6.75 6.75 0 1 0 13.5 0a6.75 6.75 0 1 0 -13.5 0zM200.17 500.73a6.75 6.75 0 1 0 13.5 0a6.75 6.75 0 1 0 -13.5 0zM203.35 504.94a6.75 6.75 0 1 0 13.5 0a6.75 6.75 0 1 0 -13.5 0zM206.53 510.97a6.75 6.75 0 1 0 13.5 0a6.75 6.75 0 1 0 -13.5 0zM209.71 520.5a6.75 6.75 0 1 0 13.5 0a6.75 6.75 0 1 0 -13.5 0zM212.89 529.39a6.75 6.75 0 1 0 13.5 0a6.75 6.75 0 1 0 -13.5 0zM216.07 553.22a6.75 6.75 0 1 0 13.5 0a6.75 6.75 0 1 0 -13.5 0zM219.26 587.45a6.75 6.75 0 1 0 13.5 0a6.75 6.75 0 1 0 -13.5 0zM222.44 540.99a6.75 6.75 0 1 0 13.5 0a6.75 6.75 0 1 0 -13.5 0zM225.62 508.51a6.75 6.75 0 1 0 13.5 0a6.75 6.75 0 1 0 -13.5 0zM228.8 493.9a6.75 6.75 0 1 0 13.5 0a6.75 6.75 0 1 0 -13.5 0zM231.98 486.35a6.75 6.75 0 1 0 13.5 0a6.75 6.75 0 1 0 -13.5 0zM235.16 481.99a6.75 6.75 0 1 0 13.5 0a6.75 6.75 0 1 0 -13.5 0zM238.34 478.97a6.75 6.75 0 1 0 13.5 0a6.75 6.75 0 1 0 -13.5 0zM241.52 477.22a6.75 6.75 0 1 0 13.5 0a6.75 6.75 0 1 0 -13.5 0zM244.7 476.03a6.75 6.75 0 1 0 13.5 0a6.75 6.75 0 1 0 -13.5 0zM247.88 475.08a6.75 6.75 0 1 0 13.5 0a6.75 6.75 0 1 0 -13.5 0zM251.07 474.36a6.75 6.75 0 1 0 13.5 0a6.75 6.75 0 1 0 -13.5 0zM254.25 473.89a6.75 6.75 0 1 0 13.5 0a6.75 6.75 0 1 0 -13.5 0zM257.43 473.41a6.75 6.75 0 1 0 13.5 0a6.75 6.75 0 1 0 -13.5 0zM260.61 473.05a6.75 6.75 0 1 0 13.5 0a6.75 6.75 0 1 0 -13.5 0zM263.79 472.69a6.75 6.75 0 1 0 13.5 0a6.75 6.75 0 1 0 -13.5 0zM266.97 472.49a6.75 6.75 0 1 0 13.5 0a6.75 6.75 0 1 0 -13.5 0zM270.15 472.28a6.75 6.75 0 1 0 13.5 0a6.75 6.75 0 1 0 -13.5 0zM273.33 472.07a6.75 6.75 0 1 0 13.5 0a6.75 6.75 0 1 0 -13.5 0zM276.51 471.87a6.75 6.75 0 1 0 13.5 0a6.75 6.75 0 1 0 -13.5 0zM279.69 471.66a6.75 6.75 0 1 0 13.5 0a6.75 6.75 0 1 0 -13.5 0zM282.88 471.55a6.75 6.75 0 1 0 13.5 0a6.75 6.75 0 1 0 -13.5 0zM286.06 471.44a6.75 6.75 0 1 0 13.5 0a6.75 6.75 0 1 0 -13.5 0zM289.24 471.33a6.75 6.75 0 1 0 13.5 0a6.75 6.75 0 1 0 -13.5 0zM292.42 471.22a6.75 6.75 0 1 0 13.5 0a6.75 6.75 0 1 0 -13.5 0zM295.6 471.11a6.75 6.75 0 1 0 13.5 0a6.75 6.75 0 1 0 -13.5 0zM298.78 471.01a6.75 6.75 0 1 0 13.5 0a6.75 6.75 0 1 0 -13.5 0zM301.96 470.92a6.75 6.75 0 1 0 13.5 0a6.75 6.75 0 1 0 -13.5 0zM305.14 470.83a6.75 6.75 0 1 0 13.5 0a6.75 6.75 0 1 0 -13.5 0zM308.32 470.74a6.75 6.75 0 1 0 13.5 0a6.75 6.75 0 1 0 -13.5 0zM311.5 470.65a6.75 6.75 0 1 0 13.5 0a6.75 6.75 0 1 0 -13.5 0zM314.69 470.56a6.75 6.75 0 1 0 13.5 0a6.75 6.75 0 1 0 -13.5 0zM317.87 470.46a6.75 6.75 0 1 0 13.5 0a6.75 6.75 0 1 0 -13.5 0zM321.05 470.37a6.75 6.75 0 1 0 13.5 0a6.75 6.75 0 1 0 -13.5 0zM324.23 470.28a6.75 6.75 0 1 0 13.5 0a6.75 6.75 0 1 0 -13.5 0zM327.41 470.19a6.75 6.75 0 1 0 13.5 0a6.75 6.75 0 1 0 -13.5 0zM330.59 470.1a6.75 6.75 0 1 0 13.5 0a6.75 6.75 0 1 0 -13.5 0zM333.77 470.01a6.75 6.75 0 1 0 13.5 0a6.75 6.75 0 1 0 -13.5 0zM336.95 469.91a6.75 6.75 0 1 0 13.5 0a6.75 6.75 0 1 0 -13.5 0zM340.13 469.9a6.75 6.75 0 1 0 13.5 0a6.75 6.75 0 1 0 -13.5 0zM343.31 469.88a6.75 6.75 0 1 0 13.5 0a6.75 6.75 0 1 0 -13.5 0zM346.5 469.86a6.75 6.75 0 1 0 13.5 0a6.75 6.75 0 1 0 -13.5 0zM349.68 469.84a6.75 6.75 0 1 0 13.5 0a6.75 6.75 0 1 0 -13.5 0zM352.86 469.82a6.75 6.75 0 1 0 13.5 0a6.75 6.75 0 1 0 -13.5 0zM356.04 469.8a6.75 6.75 0 1 0 13.5 0a6.75 6.75 0 1 0 -13.5 0zM359.22 469.78a6.75 6.75 0 1 0 13.5 0a6.75 6.75 0 1 0 -13.5 0zM362.4 469.77a6.75 6.75 0 1 0 13.5 0a6.75 6.75 0 1 0 -13.5 0zM365.58 469.75a6.75 6.75 0 1 0 13.5 0a6.75 6.75 0 1 0 -13.5 0zM368.76 469.73a6.75 6.75 0 1 0 13.5 0a6.75 6.75 0 1 0 -13.5 0zM371.94 469.71a6.75 6.75 0 1 0 13.5 0a6.75 6.75 0 1 0 -13.5 0zM375.12 469.69a6.75 6.75 0 1 0 13.5 0a6.75 6.75 0 1 0 -13.5 0zM378.31 469.67a6.75 6.75 0 1 0 13.5 0a6.75 6.75 0 1 0 -13.5 0zM381.49 469.65a6.75 6.75 0 1 0 13.5 0a6.75 6.75 0 1 0 -13.5 0zM384.67 469.63a6.75 6.75 0 1 0 13.5 0a6.75 6.75 0 1 0 -13.5 0zM387.85 469.62a6.75 6.75 0 1 0 13.5 0a6.75 6.75 0 1 0 -13.5 0zM391.03 469.6a6.75 6.75 0 1 0 13.5 0a6.75 6.75 0 1 0 -13.5 0zM394.21 469.58a6.75 6.75 0 1 0 13.5 0a6.75 6.75 0 1 0 -13.5 0zM397.39 469.57a6.75 6.75 0 1 0 13.5 0a6.75 6.75 0 1 0 -13.5 0zM400.57 469.55a6.75 6.75 0 1 0 13.5 0a6.75 6.75 0 1 0 -13.5 0zM403.75 469.53a6.75 6.75 0 1 0 13.5 0a6.75 6.75 0 1 0 -13.5 0zM406.94 469.52a6.75 6.75 0 1 0 13.5 0a6.75 6.75 0 1 0 -13.5 0zM410.12 469.5a6.75 6.75 0 1 0 13.5 0a6.75 6.75 0 1 0 -13.5 0zM413.3 469.49a6.75 6.75 0 1 0 13.5 0a6.75 6.75 0 1 0 -13.5 0zM416.48 469.47a6.75 6.75 0 1 0 13.5 0a6.75 6.75 0 1 0 -13.5 0zM419.66 469.45a6.75 6.75 0 1 0 13.5 0a6.75 6.75 0 1 0 -13.5 0zM422.84 469.44a6.75 6.75 0 1 0 13.5 0a6.75 6.75 0 1 0 -13.5 0zM426.02 469.42a6.75 6.75 0 1 0 13.5 0a6.75 6.75 0 1 0 -13.5 0zM429.2 469.41a6.75 6.75 0 1 0 13.5 0a6.75 6.75 0 1 0 -13.5 0zM432.38 469.39a6.75 6.75 0 1 0 13.5 0a6.75 6.75 0 1 0 -13.5 0zM435.56 469.37a6.75 6.75 0 1 0 13.5 0a6.75 6.75 0 1 0 -13.5 0zM438.74 469.36a6.75 6.75 0 1 0 13.5 0a6.75 6.75 0 1 0 -13.5 0zM441.93 469.34a6.75 6.75 0 1 0 13.5 0a6.75 6.75 0 1 0 -13.5 0zM445.11 469.33a6.75 6.75 0 1 0 13.5 0a6.75 6.75 0 1 0 -13.5 0zM448.29 469.31a6.75 6.75 0 1 0 13.5 0a6.75 6.75 0 1 0 -13.5 0zM451.47 469.3a6.75 6.75 0 1 0 13.5 0a6.75 6.75 0 1 0 -13.5 0zM454.65 469.28a6.75 6.75 0 1 0 13.5 0a6.75 6.75 0 1 0 -13.5 0z" fill="#0000ff"/>
<rect x="143.3" y="465.15" width="318.1" height="317.65" fill="none" stroke="#000" stroke-width="2.4"/>
<path d="M206.92 782.8v-6.5M270.54 782.8v-6.5M334.16 782.8v-6.5M397.78 782.8v-6.5M143.3 703.39h6.5M143.3 623.98h6.5M143.3 544.56h6.5" stroke="#000" stroke-width="2.0" fill="none"/>
<text transform="translate(96.65 791.5) scale(0.975 1.07)">0.1</text>
<text transform="translate(96.65 712.09) scale(0.975 1.07)">0.2</text>
<text transform="translate(96.65 632.68) scale(0.975 1.07)">0.3</text>
<text transform="translate(96.65 553.26) scale(0.975 1.07)">0.4</text>
<text transform="translate(96.65 473.85) scale(0.975 1.07)">0.5</text>
<text transform="translate(122.98 816.4) scale(1 1.07)">0.0</text>
<text transform="translate(186.6 816.4) scale(1 1.07)">0.2</text>
<text transform="translate(250.22 816.4) scale(1 1.07)">0.4</text>
<text transform="translate(313.83 816.4) scale(1 1.07)">0.6</text>
<text transform="translate(377.45 816.4) scale(1 1.07)">0.8</text>
<text transform="translate(441.07 816.4) scale(1 1.07)">1.0</text>
<text x="152.35" y="860.5" font-size="33">Collisional</text><text transform="translate(308 860.5) scale(0.980 1.000)" font-size="33">velocity</text><text x="422.75" y="860.5" font-size="33" font-style="italic">v</text><text transform="translate(435.33 866) scale(1.100 1.050)" font-size="25.5">0</text>
</g>
<g id="panel-c">
<path d="M626.48 315.1h13.3M633.13 308.45v13.3M636.02 315.1h13.3M642.67 308.45v13.3M639.2 315.37h13.3M645.85 308.72v13.3M648.75 322.09h13.3M655.4 315.44v13.3M651.93 326.66h13.3M658.58 320.01v13.3M655.11 331.26h13.3M661.76 324.61v13.3M658.29 336.83h13.3M664.94 330.18v13.3M661.47 343.46h13.3M668.12 336.81v13.3M664.65 351.17h13.3M671.3 344.52v13.3M667.83 356.41h13.3M674.48 349.76v13.3M671.01 364.2h13.3M677.66 357.55v13.3M674.19 364.79h13.3M680.84 358.14v13.3M677.38 335.47h13.3M684.02 328.82v13.3M680.56 359.23h13.3M687.21 352.58v13.3M683.74 381.87h13.3M690.39 375.22v13.3M686.92 402.73h13.3M693.57 396.08v13.3M690.1 422.08h13.3M696.75 415.43v13.3M693.28 439.47h13.3M699.93 432.82v13.3M696.46 454.21h13.3M703.11 447.56v13.3M699.64 466.65h13.3M706.29 460v13.3M702.82 476.94h13.3M709.47 470.29v13.3M706 484.88h13.3M712.65 478.23v13.3M709.19 492.67h13.3M715.84 486.02v13.3M712.37 499.1h13.3M719.02 492.45v13.3M715.55 503.87h13.3M722.2 497.22v13.3M718.73 508.16h13.3M725.38 501.51v13.3M721.91 511.89h13.3M728.56 505.24v13.3M725.09 515.15h13.3M731.74 508.5v13.3M728.27 518.21h13.3M734.92 511.56v13.3M731.45 520.87h13.3M738.1 514.22v13.3M734.63 523.22h13.3M741.28 516.57v13.3M737.81 525.4h13.3M744.46 518.75v13.3M741 527.31h13.3M747.64 520.66v13.3M744.18 528.74h13.3M750.83 522.09v13.3M747.36 530.21h13.3M754.01 523.56v13.3M750.54 531.48h13.3M757.19 524.83v13.3M753.72 532.83h13.3M760.37 526.18v13.3M756.9 533.9h13.3M763.55 527.25v13.3M760.08 534.85h13.3M766.73 528.2v13.3M763.26 535.93h13.3M769.91 529.28v13.3M766.44 536.88h13.3M773.09 530.23v13.3M769.62 537.6h13.3M776.27 530.95v13.3M772.81 538.35h13.3M779.46 531.7v13.3M775.99 538.95h13.3M782.64 532.3v13.3M779.17 539.54h13.3M785.82 532.89v13.3M782.35 540.3h13.3M789 533.65v13.3M785.53 540.83h13.3M792.18 534.18v13.3M788.71 541.45h13.3M795.36 534.8v13.3M791.89 541.9h13.3M798.54 535.25v13.3M795.07 542.35h13.3M801.72 535.7v13.3M798.25 542.8h13.3M804.9 536.15v13.3M801.43 543.11h13.3M808.08 536.46v13.3M804.62 543.43h13.3M811.26 536.78v13.3M807.8 543.69h13.3M814.45 537.04v13.3M810.98 543.96h13.3M817.63 537.31v13.3M814.16 544.22h13.3M820.81 537.57v13.3M817.34 544.49h13.3M823.99 537.84v13.3M820.52 544.75h13.3M827.17 538.1v13.3M823.7 545.01h13.3M830.35 538.36v13.3M826.88 545.19h13.3M833.53 538.54v13.3M830.06 545.37h13.3M836.71 538.72v13.3M833.24 545.55h13.3M839.89 538.9v13.3M836.43 545.73h13.3M843.08 539.08v13.3M839.61 545.92h13.3M846.26 539.27v13.3M842.79 546.1h13.3M849.44 539.45v13.3M845.97 546.28h13.3M852.62 539.63v13.3M849.15 546.46h13.3M855.8 539.81v13.3M852.33 546.57h13.3M858.98 539.92v13.3M855.51 546.66h13.3M862.16 540.01v13.3M858.69 546.75h13.3M865.34 540.1v13.3M861.87 546.85h13.3M868.52 540.2v13.3M865.05 546.94h13.3M871.7 540.29v13.3M868.24 547.03h13.3M874.88 540.38v13.3M871.42 547.12h13.3M878.07 540.47v13.3M874.6 547.21h13.3M881.25 540.56v13.3M877.78 547.3h13.3M884.43 540.65v13.3M880.96 547.4h13.3M887.61 540.75v13.3M884.14 547.49h13.3M890.79 540.84v13.3M887.32 547.56h13.3M893.97 540.91v13.3M890.5 547.63h13.3M897.15 540.98v13.3M893.68 547.7h13.3M900.33 541.05v13.3M896.86 547.77h13.3M903.51 541.12v13.3M900.04 547.84h13.3M906.69 541.19v13.3M903.23 547.92h13.3M909.88 541.27v13.3M906.41 547.99h13.3M913.06 541.34v13.3M909.59 548.06h13.3M916.24 541.41v13.3M912.77 548.13h13.3M919.42 541.48v13.3M915.95 548.2h13.3M922.6 541.55v13.3" stroke="#000000" stroke-width="1.35" fill="none"/>
<path d="M626.48 326.76l13.3 13.3M626.48 340.06l13.3 -13.3M636.02 328.31l13.3 13.3M636.02 341.61l13.3 -13.3M639.2 327.36l13.3 13.3M639.2 340.65l13.3 -13.3M648.75 335.58l13.3 13.3M648.75 348.88l13.3 -13.3M651.93 337.56l13.3 13.3M651.93 350.86l13.3 -13.3M655.11 341.81l13.3 13.3M655.11 355.11l13.3 -13.3M658.29 346.98l13.3 13.3M658.29 360.28l13.3 -13.3M661.47 352.46l13.3 13.3M661.47 365.76l13.3 -13.3M664.65 363.19l13.3 13.3M664.65 376.49l13.3 -13.3M667.83 370.42l13.3 13.3M667.83 383.72l13.3 -13.3M671.01 381.22l13.3 13.3M671.01 394.52l13.3 -13.3M674.19 387.5l13.3 13.3M674.19 400.8l13.3 -13.3M677.38 362.55l13.3 13.3M677.38 375.85l13.3 -13.3M680.56 395.96l13.3 13.3M680.56 409.26l13.3 -13.3M683.74 427.3l13.3 13.3M683.74 440.6l13.3 -13.3M686.92 454l13.3 13.3M686.92 467.3l13.3 -13.3M690.1 475.21l13.3 13.3M690.1 488.51l13.3 -13.3M693.28 490.94l13.3 13.3M693.28 504.24l13.3 -13.3M696.46 503.46l13.3 13.3M696.46 516.76l13.3 -13.3M699.64 512.27l13.3 13.3M699.64 525.57l13.3 -13.3M702.82 519.15l13.3 13.3M702.82 532.45l13.3 -13.3M706 524.67l13.3 13.3M706 537.97l13.3 -13.3M709.19 529.2l13.3 13.3M709.19 542.5l13.3 -13.3M712.37 532.57l13.3 13.3M712.37 545.87l13.3 -13.3M715.55 535.36l13.3 13.3M715.55 548.66l13.3 -13.3M718.73 537.66l13.3 13.3M718.73 550.96l13.3 -13.3M721.91 539.69l13.3 13.3M721.91 552.99l13.3 -13.3M725.09 541.39l13.3 13.3M725.09 554.69l13.3 -13.3M728.27 542.92l13.3 13.3M728.27 556.22l13.3 -13.3M731.45 544.16l13.3 13.3M731.45 557.46l13.3 -13.3M734.63 545.41l13.3 13.3M734.63 558.71l13.3 -13.3M737.81 546.4l13.3 13.3M737.81 559.7l13.3 -13.3M741 547.27l13.3 13.3M741 560.57l13.3 -13.3M744.18 548.11l13.3 13.3M744.18 561.41l13.3 -13.3M747.36 548.82l13.3 13.3M747.36 562.12l13.3 -13.3M750.54 549.42l13.3 13.3M750.54 562.72l13.3 -13.3M753.72 550.01l13.3 13.3M753.72 563.31l13.3 -13.3M756.9 550.61l13.3 13.3M756.9 563.91l13.3 -13.3M760.08 551l13.3 13.3M760.08 564.3l13.3 -13.3M763.26 551.39l13.3 13.3M763.26 564.69l13.3 -13.3M766.44 551.78l13.3 13.3M766.44 565.08l13.3 -13.3M769.62 552.17l13.3 13.3M769.62 565.47l13.3 -13.3M772.81 552.57l13.3 13.3M772.81 565.87l13.3 -13.3M775.99 552.89l13.3 13.3M775.99 566.19l13.3 -13.3M779.17 553.22l13.3 13.3M779.17 566.52l13.3 -13.3M782.35 553.55l13.3 13.3M782.35 566.85l13.3 -13.3M785.53 553.85l13.3 13.3M785.53 567.15l13.3 -13.3M788.71 554.16l13.3 13.3M788.71 567.46l13.3 -13.3M791.89 554.37l13.3 13.3M791.89 567.67l13.3 -13.3M795.07 554.59l13.3 13.3M795.07 567.89l13.3 -13.3M798.25 554.8l13.3 13.3M798.25 568.1l13.3 -13.3M801.43 555.02l13.3 13.3M801.43 568.32l13.3 -13.3M804.62 555.24l13.3 13.3M804.62 568.54l13.3 -13.3M807.8 555.45l13.3 13.3M807.8 568.75l13.3 -13.3M810.98 555.67l13.3 13.3M810.98 568.97l13.3 -13.3M814.16 555.88l13.3 13.3M814.16 569.18l13.3 -13.3M817.34 556.1l13.3 13.3M817.34 569.4l13.3 -13.3M820.52 556.22l13.3 13.3M820.52 569.52l13.3 -13.3M823.7 556.3l13.3 13.3M823.7 569.6l13.3 -13.3M826.88 556.39l13.3 13.3M826.88 569.69l13.3 -13.3M830.06 556.48l13.3 13.3M830.06 569.78l13.3 -13.3M833.24 556.56l13.3 13.3M833.24 569.86l13.3 -13.3M836.43 556.65l13.3 13.3M836.43 569.95l13.3 -13.3M839.61 556.74l13.3 13.3M839.61 570.04l13.3 -13.3M842.79 556.82l13.3 13.3M842.79 570.12l13.3 -13.3M845.97 556.91l13.3 13.3M845.97 570.21l13.3 -13.3M849.15 557l13.3 13.3M849.15 570.3l13.3 -13.3M852.33 557.08l13.3 13.3M852.33 570.38l13.3 -13.3M855.51 557.13l13.3 13.3M855.51 570.43l13.3 -13.3M858.69 557.18l13.3 13.3M858.69 570.48l13.3 -13.3M861.87 557.23l13.3 13.3M861.87 570.53l13.3 -13.3M865.05 557.28l13.3 13.3M865.05 570.58l13.3 -13.3M868.24 557.32l13.3 13.3M868.24 570.62l13.3 -13.3M871.42 557.37l13.3 13.3M871.42 570.67l13.3 -13.3M874.6 557.42l13.3 13.3M874.6 570.72l13.3 -13.3M877.78 557.47l13.3 13.3M877.78 570.77l13.3 -13.3M880.96 557.51l13.3 13.3M880.96 570.81l13.3 -13.3M884.14 557.56l13.3 13.3M884.14 570.86l13.3 -13.3M887.32 557.6l13.3 13.3M887.32 570.9l13.3 -13.3M890.5 557.64l13.3 13.3M890.5 570.94l13.3 -13.3M893.68 557.68l13.3 13.3M893.68 570.98l13.3 -13.3M896.86 557.72l13.3 13.3M896.86 571.02l13.3 -13.3M900.04 557.76l13.3 13.3M900.04 571.06l13.3 -13.3M903.23 557.8l13.3 13.3M903.23 571.1l13.3 -13.3M906.41 557.84l13.3 13.3M906.41 571.14l13.3 -13.3M909.59 557.88l13.3 13.3M909.59 571.18l13.3 -13.3M912.77 557.92l13.3 13.3M912.77 571.22l13.3 -13.3M915.95 557.96l13.3 13.3M915.95 571.26l13.3 -13.3" stroke="#ff0000" stroke-width="1.35" fill="none"/>
<path d="M626.48 340.58h13.3v13.3h-13.3zM636.02 341.62h13.3v13.3h-13.3zM639.2 341.78h13.3v13.3h-13.3zM648.75 348.65h13.3v13.3h-13.3zM651.93 347.93h13.3v13.3h-13.3zM655.11 351.27h13.3v13.3h-13.3zM658.29 354.96h13.3v13.3h-13.3zM661.47 361h13.3v13.3h-13.3zM664.65 370.42h13.3v13.3h-13.3zM667.83 381.7h13.3v13.3h-13.3zM671.01 399.3h13.3v13.3h-13.3zM674.19 409.67h13.3v13.3h-13.3zM677.38 387.1h13.3v13.3h-13.3zM680.56 434.25h13.3v13.3h-13.3zM683.74 469.57h13.3v13.3h-13.3zM686.92 497.3h13.3v13.3h-13.3zM690.1 516.57h13.3v13.3h-13.3zM693.28 528.24h13.3v13.3h-13.3zM696.46 535.59h13.3v13.3h-13.3zM699.64 541h13.3v13.3h-13.3zM702.82 544.93h13.3v13.3h-13.3zM706 548.35h13.3v13.3h-13.3zM709.19 550.81h13.3v13.3h-13.3zM712.37 552.64h13.3v13.3h-13.3zM715.55 554.15h13.3v13.3h-13.3zM718.73 555.61h13.3v13.3h-13.3zM721.91 556.89h13.3v13.3h-13.3zM725.09 557.68h13.3v13.3h-13.3zM728.27 558.36h13.3v13.3h-13.3zM731.45 558.99h13.3v13.3h-13.3zM734.63 559.43h13.3v13.3h-13.3zM737.81 559.86h13.3v13.3h-13.3zM741 560.22h13.3v13.3h-13.3zM744.18 560.55h13.3v13.3h-13.3zM747.36 560.86h13.3v13.3h-13.3zM750.54 561.18h13.3v13.3h-13.3zM753.72 561.49h13.3v13.3h-13.3zM756.9 561.81h13.3v13.3h-13.3zM760.08 562.1h13.3v13.3h-13.3zM763.26 562.38h13.3v13.3h-13.3zM766.44 562.66h13.3v13.3h-13.3zM769.62 562.95h13.3v13.3h-13.3zM772.81 563.23h13.3v13.3h-13.3zM775.99 563.48h13.3v13.3h-13.3zM779.17 563.72h13.3v13.3h-13.3zM782.35 563.97h13.3v13.3h-13.3zM785.53 564.09h13.3v13.3h-13.3zM788.71 564.22h13.3v13.3h-13.3zM791.89 564.3h13.3v13.3h-13.3zM795.07 564.38h13.3v13.3h-13.3zM798.25 564.46h13.3v13.3h-13.3zM801.43 564.55h13.3v13.3h-13.3zM804.62 564.63h13.3v13.3h-13.3zM807.8 564.71h13.3v13.3h-13.3zM810.98 564.79h13.3v13.3h-13.3zM814.16 564.86h13.3v13.3h-13.3zM817.34 564.93h13.3v13.3h-13.3zM820.52 565h13.3v13.3h-13.3zM823.7 565.04h13.3v13.3h-13.3zM826.88 565.07h13.3v13.3h-13.3zM830.06 565.11h13.3v13.3h-13.3zM833.24 565.15h13.3v13.3h-13.3zM836.43 565.19h13.3v13.3h-13.3zM839.61 565.22h13.3v13.3h-13.3zM842.79 565.26h13.3v13.3h-13.3zM845.97 565.3h13.3v13.3h-13.3zM849.15 565.33h13.3v13.3h-13.3zM852.33 565.37h13.3v13.3h-13.3zM855.51 565.4h13.3v13.3h-13.3zM858.69 565.44h13.3v13.3h-13.3zM861.87 565.47h13.3v13.3h-13.3zM865.05 565.51h13.3v13.3h-13.3zM868.24 565.55h13.3v13.3h-13.3zM871.42 565.56h13.3v13.3h-13.3zM874.6 565.58h13.3v13.3h-13.3zM877.78 565.59h13.3v13.3h-13.3zM880.96 565.61h13.3v13.3h-13.3zM884.14 565.63h13.3v13.3h-13.3zM887.32 565.64h13.3v13.3h-13.3zM890.5 565.66h13.3v13.3h-13.3zM893.68 565.67h13.3v13.3h-13.3zM896.86 565.69h13.3v13.3h-13.3zM900.04 565.7h13.3v13.3h-13.3zM903.23 565.72h13.3v13.3h-13.3zM906.41 565.74h13.3v13.3h-13.3zM909.59 565.75h13.3v13.3h-13.3zM912.77 565.77h13.3v13.3h-13.3zM915.95 565.78h13.3v13.3h-13.3z" fill="#00ff00"/>
<path d="M626.38 357.32a6.75 6.75 0 1 0 13.5 0a6.75 6.75 0 1 0 -13.5 0zM635.92 358.63a6.75 6.75 0 1 0 13.5 0a6.75 6.75 0 1 0 -13.5 0zM639.1 358.75a6.75 6.75 0 1 0 13.5 0a6.75 6.75 0 1 0 -13.5 0zM648.65 365.82a6.75 6.75 0 1 0 13.5 0a6.75 6.75 0 1 0 -13.5 0zM651.83 366.3a6.75 6.75 0 1 0 13.5 0a6.75 6.75 0 1 0 -13.5 0zM655.01 367.37a6.75 6.75 0 1 0 13.5 0a6.75 6.75 0 1 0 -13.5 0zM658.19 369.8a6.75 6.75 0 1 0 13.5 0a6.75 6.75 0 1 0 -13.5 0zM661.37 374.48a6.75 6.75 0 1 0 13.5 0a6.75 6.75 0 1 0 -13.5 0zM664.55 382.43a6.75 6.75 0 1 0 13.5 0a6.75 6.75 0 1 0 -13.5 0zM667.73 394.43a6.75 6.75 0 1 0 13.5 0a6.75 6.75 0 1 0 -13.5 0zM670.91 411.59a6.75 6.75 0 1 0 13.5 0a6.75 6.75 0 1 0 -13.5 0zM674.09 435.34a6.75 6.75 0 1 0 13.5 0a6.75 6.75 0 1 0 -13.5 0zM677.27 452.9a6.75 6.75 0 1 0 13.5 0a6.75 6.75 0 1 0 -13.5 0zM680.46 466.17a6.75 6.75 0 1 0 13.5 0a6.75 6.75 0 1 0 -13.5 0zM683.64 508.28a6.75 6.75 0 1 0 13.5 0a6.75 6.75 0 1 0 -13.5 0zM686.82 537.95a6.75 6.75 0 1 0 13.5 0a6.75 6.75 0 1 0 -13.5 0zM690 551.7a6.75 6.75 0 1 0 13.5 0a6.75 6.75 0 1 0 -13.5 0zM693.18 559.05a6.75 6.75 0 1 0 13.5 0a6.75 6.75 0 1 0 -13.5 0zM696.36 562.74a6.75 6.75 0 1 0 13.5 0a6.75 6.75 0 1 0 -13.5 0zM699.54 565.44a6.75 6.75 0 1 0 13.5 0a6.75 6.75 0 1 0 -13.5 0zM702.72 567.11a6.75 6.75 0 1 0 13.5 0a6.75 6.75 0 1 0 -13.5 0zM705.9 568.54a6.75 6.75 0 1 0 13.5 0a6.75 6.75 0 1 0 -13.5 0zM709.09 569.69a6.75 6.75 0 1 0 13.5 0a6.75 6.75 0 1 0 -13.5 0zM712.27 570.53a6.75 6.75 0 1 0 13.5 0a6.75 6.75 0 1 0 -13.5 0zM715.45 571.12a6.75 6.75 0 1 0 13.5 0a6.75 6.75 0 1 0 -13.5 0zM718.63 571.6a6.75 6.75 0 1 0 13.5 0a6.75 6.75 0 1 0 -13.5 0zM721.81 571.94a6.75 6.75 0 1 0 13.5 0a6.75 6.75 0 1 0 -13.5 0zM724.99 572.28a6.75 6.75 0 1 0 13.5 0a6.75 6.75 0 1 0 -13.5 0zM728.17 572.49a6.75 6.75 0 1 0 13.5 0a6.75 6.75 0 1 0 -13.5 0zM731.35 572.7a6.75 6.75 0 1 0 13.5 0a6.75 6.75 0 1 0 -13.5 0zM734.53 572.92a6.75 6.75 0 1 0 13.5 0a6.75 6.75 0 1 0 -13.5 0zM737.71 573.13a6.75 6.75 0 1 0 13.5 0a6.75 6.75 0 1 0 -13.5 0zM740.89 573.35a6.75 6.75 0 1 0 13.5 0a6.75 6.75 0 1 0 -13.5 0zM744.08 573.49a6.75 6.75 0 1 0 13.5 0a6.75 6.75 0 1 0 -13.5 0zM747.26 573.63a6.75 6.75 0 1 0 13.5 0a6.75 6.75 0 1 0 -13.5 0zM750.44 573.78a6.75 6.75 0 1 0 13.5 0a6.75 6.75 0 1 0 -13.5 0zM753.62 573.92a6.75 6.75 0 1 0 13.5 0a6.75 6.75 0 1 0 -13.5 0zM756.8 574.06a6.75 6.75 0 1 0 13.5 0a6.75 6.75 0 1 0 -13.5 0zM759.98 574.16a6.75 6.75 0 1 0 13.5 0a6.75 6.75 0 1 0 -13.5 0zM763.16 574.27a6.75 6.75 0 1 0 13.5 0a6.75 6.75 0 1 0 -13.5 0zM766.34 574.37a6.75 6.75 0 1 0 13.5 0a6.75 6.75 0 1 0 -13.5 0zM769.52 574.47a6.75 6.75 0 1 0 13.5 0a6.75 6.75 0 1 0 -13.5 0zM772.71 574.57a6.75 6.75 0 1 0 13.5 0a6.75 6.75 0 1 0 -13.5 0zM775.89 574.67a6.75 6.75 0 1 0 13.5 0a6.75 6.75 0 1 0 -13.5 0zM779.07 574.77a6.75 6.75 0 1 0 13.5 0a6.75 6.75 0 1 0 -13.5 0zM782.25 574.87a6.75 6.75 0 1 0 13.5 0a6.75 6.75 0 1 0 -13.5 0zM785.43 574.98a6.75 6.75 0 1 0 13.5 0a6.75 6.75 0 1 0 -13.5 0zM788.61 575.08a6.75 6.75 0 1 0 13.5 0a6.75 6.75 0 1 0 -13.5 0zM791.79 575.15a6.75 6.75 0 1 0 13.5 0a6.75 6.75 0 1 0 -13.5 0zM794.97 575.23a6.75 6.75 0 1 0 13.5 0a6.75 6.75 0 1 0 -13.5 0zM798.15 575.3a6.75 6.75 0 1 0 13.5 0a6.75 6.75 0 1 0 -13.5 0zM801.33 575.34a6.75 6.75 0 1 0 13.5 0a6.75 6.75 0 1 0 -13.5 0zM804.51 575.37a6.75 6.75 0 1 0 13.5 0a6.75 6.75 0 1 0 -13.5 0zM807.7 575.41a6.75 6.75 0 1 0 13.5 0a6.75 6.75 0 1 0 -13.5 0zM810.88 575.45a6.75 6.75 0 1 0 13.5 0a6.75 6.75 0 1 0 -13.5 0zM814.06 575.48a6.75 6.75 0 1 0 13.5 0a6.75 6.75 0 1 0 -13.5 0zM817.24 575.52a6.75 6.75 0 1 0 13.5 0a6.75 6.75 0 1 0 -13.5 0zM820.42 575.56a6.75 6.75 0 1 0 13.5 0a6.75 6.75 0 1 0 -13.5 0zM823.6 575.6a6.75 6.75 0 1 0 13.5 0a6.75 6.75 0 1 0 -13.5 0zM826.78 575.63a6.75 6.75 0 1 0 13.5 0a6.75 6.75 0 1 0 -13.5 0zM829.96 575.66a6.75 6.75 0 1 0 13.5 0a6.75 6.75 0 1 0 -13.5 0zM833.14 575.7a6.75 6.75 0 1 0 13.5 0a6.75 6.75 0 1 0 -13.5 0zM836.33 575.73a6.75 6.75 0 1 0 13.5 0a6.75 6.75 0 1 0 -13.5 0zM839.51 575.76a6.75 6.75 0 1 0 13.5 0a6.75 6.75 0 1 0 -13.5 0zM842.69 575.79a6.75 6.75 0 1 0 13.5 0a6.75 6.75 0 1 0 -13.5 0zM845.87 575.83a6.75 6.75 0 1 0 13.5 0a6.75 6.75 0 1 0 -13.5 0zM849.05 575.86a6.75 6.75 0 1 0 13.5 0a6.75 6.75 0 1 0 -13.5 0zM852.23 575.89a6.75 6.75 0 1 0 13.5 0a6.75 6.75 0 1 0 -13.5 0zM855.41 575.92a6.75 6.75 0 1 0 13.5 0a6.75 6.75 0 1 0 -13.5 0zM858.59 575.96a6.75 6.75 0 1 0 13.5 0a6.75 6.75 0 1 0 -13.5 0zM861.77 575.99a6.75 6.75 0 1 0 13.5 0a6.75 6.75 0 1 0 -13.5 0zM864.95 576.02a6.75 6.75 0 1 0 13.5 0a6.75 6.75 0 1 0 -13.5 0zM868.13 576.05a6.75 6.75 0 1 0 13.5 0a6.75 6.75 0 1 0 -13.5 0zM871.32 576.07a6.75 6.75 0 1 0 13.5 0a6.75 6.75 0 1 0 -13.5 0zM874.5 576.09a6.75 6.75 0 1 0 13.5 0a6.75 6.75 0 1 0 -13.5 0zM877.68 576.11a6.75 6.75 0 1 0 13.5 0a6.75 6.75 0 1 0 -13.5 0zM880.86 576.13a6.75 6.75 0 1 0 13.5 0a6.75 6.75 0 1 0 -13.5 0zM884.04 576.16a6.75 6.75 0 1 0 13.5 0a6.75 6.75 0 1 0 -13.5 0zM887.22 576.18a6.75 6.75 0 1 0 13.5 0a6.75 6.75 0 1 0 -13.5 0zM890.4 576.2a6.75 6.75 0 1 0 13.5 0a6.75 6.75 0 1 0 -13.5 0zM893.58 576.22a6.75 6.75 0 1 0 13.5 0a6.75 6.75 0 1 0 -13.5 0zM896.76 576.24a6.75 6.75 0 1 0 13.5 0a6.75 6.75 0 1 0 -13.5 0zM899.94 576.26a6.75 6.75 0 1 0 13.5 0a6.75 6.75 0 1 0 -13.5 0zM903.13 576.28a6.75 6.75 0 1 0 13.5 0a6.75 6.75 0 1 0 -13.5 0zM906.31 576.3a6.75 6.75 0 1 0 13.5 0a6.75 6.75 0 1 0 -13.5 0zM909.49 576.32a6.75 6.75 0 1 0 13.5 0a6.75 6.75 0 1 0 -13.5 0zM912.67 576.35a6.75 6.75 0 1 0 13.5 0a6.75 6.75 0 1 0 -13.5 0zM915.85 576.37a6.75 6.75 0 1 0 13.5 0a6.75 6.75 0 1 0 -13.5 0z" fill="#0000ff"/>
<rect x="604.5" y="262.5" width="318.1" height="317.8" fill="none" stroke="#000" stroke-width="2.4"/>
<path d="M668.12 580.3v-6.5M731.74 580.3v-6.5M795.36 580.3v-6.5M858.98 580.3v-6.5M604.5 500.85h6.5M604.5 421.4h6.5M604.5 341.95h6.5" stroke="#000" stroke-width="2.0" fill="none"/>
<text transform="translate(557.85 589) scale(0.975 1.07)">0.0</text>
<text transform="translate(557.85 509.55) scale(0.975 1.07)">0.2</text>
<text transform="translate(557.85 430.1) scale(0.975 1.07)">0.4</text>
<text transform="translate(557.85 350.65) scale(0.975 1.07)">0.6</text>
<text transform="translate(557.85 271.2) scale(0.975 1.07)">0.8</text>
<text transform="translate(584.17 613.9) scale(1 1.07)">0.0</text>
<text transform="translate(647.79 613.9) scale(1 1.07)">0.2</text>
<text transform="translate(711.41 613.9) scale(1 1.07)">0.4</text>
<text transform="translate(775.03 613.9) scale(1 1.07)">0.6</text>
<text transform="translate(838.65 613.9) scale(1 1.07)">0.8</text>
<text transform="translate(902.27 613.9) scale(1 1.07)">1.0</text>
<text x="613.55" y="658" font-size="33">Collisional</text><text transform="translate(769.2 658) scale(0.980 1.000)" font-size="33">velocity</text><text x="883.95" y="658" font-size="33" font-style="italic">v</text><text transform="translate(896.53 663.5) scale(1.100 1.050)" font-size="25.5">0</text>
</g>
<text x="153.59" y="44.15" font-size="32">(a)</text>
<text x="153.59" y="449.15" font-size="32">(b)</text>
<text x="614.79" y="246.5" font-size="32">(c)</text>
<g transform="translate(79.9 318.85) rotate(-90)"><text transform="translate(-2.24 0) scale(1.020 1.000)" font-size="33.6" font-style="italic">T</text><text x="17.75" y="8.1" font-size="28.4">+</text><text transform="translate(36.11 0) scale(1.038 1.000)" font-size="31.5">(</text><text transform="translate(45.09 0) scale(1.213 1.000)" font-size="33" font-style="italic" stroke="#fff" stroke-width="0.16">μ</text><text x="65.32" y="5.4" font-size="24.3" font-style="italic">v</text><text transform="translate(76.95 10.7) scale(0.946 1.000)" font-size="20.6">b</text><text x="98.21" y="3.5" font-size="36">+</text><text transform="translate(125.68 0) scale(0.961 1.050)" font-size="33">3</text><text transform="translate(142.25 0) scale(1.382 1.000)" font-size="31.5" font-style="italic" stroke="#fff" stroke-width="0.25">σ</text><text transform="translate(165.69 5.4) scale(0.942 1.000)" font-size="24.3" font-style="italic">v</text><text transform="translate(177 10.7) scale(0.941 1.000)" font-size="20.6">b</text><text transform="translate(190.82 0) scale(1.112 1.000)" font-size="31.5">)</text></g>
<g transform="translate(79.9 723.85) rotate(-90)"><text transform="translate(-2.24 0) scale(1.020 1.000)" font-size="33.6" font-style="italic">T</text><text x="17.75" y="8.1" font-size="28.4">+</text><text transform="translate(36.11 0) scale(1.038 1.000)" font-size="31.5">(</text><text transform="translate(45.09 0) scale(1.213 1.000)" font-size="33" font-style="italic" stroke="#fff" stroke-width="0.16">μ</text><text x="65.32" y="5.4" font-size="24.3" font-style="italic">v</text><text transform="translate(76.95 10.7) scale(0.946 1.000)" font-size="20.6">b</text><text x="98.21" y="3.5" font-size="36">−</text><text transform="translate(125.68 0) scale(0.961 1.050)" font-size="33">3</text><text transform="translate(142.25 0) scale(1.382 1.000)" font-size="31.5" font-style="italic" stroke="#fff" stroke-width="0.25">σ</text><text transform="translate(165.69 5.4) scale(0.942 1.000)" font-size="24.3" font-style="italic">v</text><text transform="translate(177 10.7) scale(0.941 1.000)" font-size="20.6">b</text><text transform="translate(190.82 0) scale(1.112 1.000)" font-size="31.5">)</text></g>
<g transform="translate(539.2 462.3) rotate(-90)"><text transform="translate(-3.42 -1.2) scale(1.094 1.000)" font-size="31.2">|</text><text transform="translate(2.72 0) scale(1.039 1.000)" font-size="33.6" font-style="italic">T</text><text transform="translate(22.72 5.8) scale(1.002 1.080)" font-size="25">6</text><text transform="translate(34.38 5.8) scale(1.401 1.000)" font-size="24.5" font-style="italic" stroke="#fff" stroke-width="0.26">σ</text><text transform="translate(53.57 8.8) scale(0.881 1.000)" font-size="19" font-style="italic">v</text><text transform="translate(62.5 16.2) scale(0.976 1.000)" font-size="19.3">b</text><text transform="translate(78.33 -1.2) scale(1.094 1.000)" font-size="31.2">|</text></g>
</svg>
</body></html>
